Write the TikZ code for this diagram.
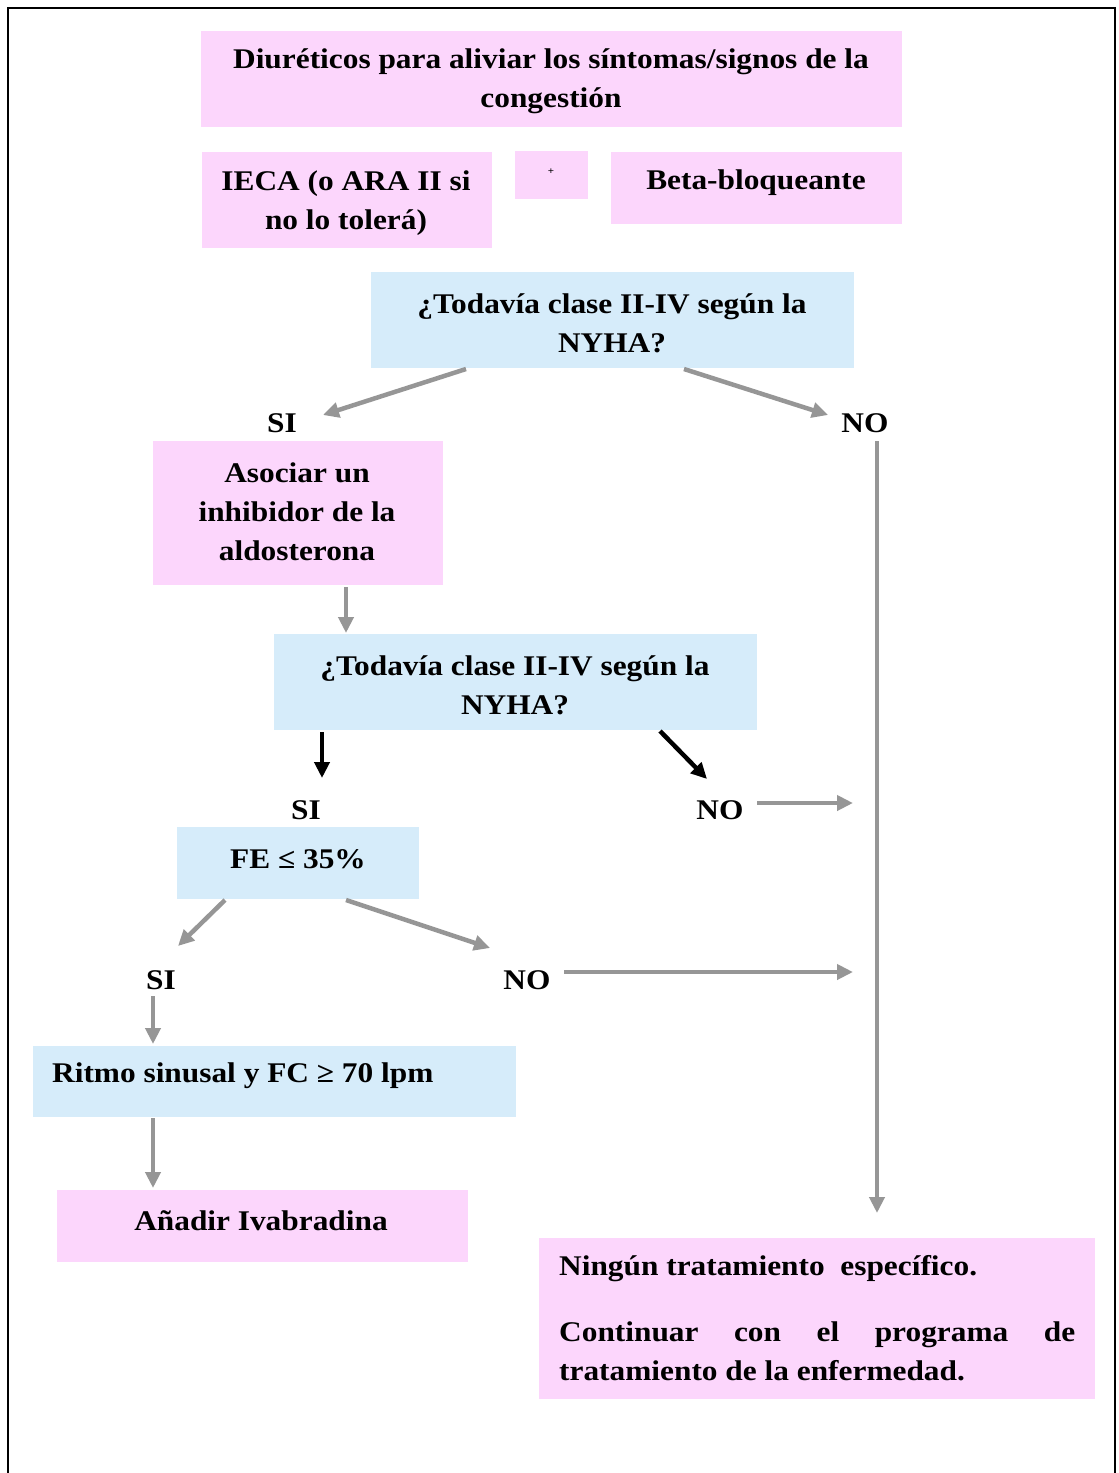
\documentclass[tikz,border=0pt]{standalone}
\usepackage{fontspec}
\setmainfont[FakeStretch=1.1]{Liberation Serif}
\usetikzlibrary{arrows.meta}
\definecolor{pinkf}{RGB}{252,214,252}
\definecolor{bluef}{RGB}{214,236,250}
\definecolor{arrgray}{RGB}{150,150,150}
\begin{document}
\begin{tikzpicture}[x=1pt,y=-1pt,
  pinkbox/.style={fill=pinkf,draw=none,anchor=north west,inner sep=0,outer sep=0},
  bluebox/.style={fill=bluef,draw=none,anchor=north west,inner sep=0,outer sep=0},
  txt/.style={font=\bfseries\fontsize{28.5}{39}\selectfont,align=center,inner sep=0},
  garrow/.style={draw=arrgray,line width=4.5pt,-{Triangle[length=16pt,width=15pt]}},
  karrow/.style={draw=black,line width=4.5pt,-{Triangle[length=16pt,width=15pt]}}]
\useasboundingbox (0,0) rectangle (1119,1473);
\begin{scope}
\clip (0,0) rectangle (1119,1473);
\draw[line width=2pt] (8,8) rectangle (1115,1490);
\end{scope}
% boxes
\node[pinkbox,minimum width=701pt,minimum height=96pt] (diur) at (201,31) {};
\node[pinkbox,minimum width=290pt,minimum height=96pt] (ieca) at (202,152) {};
\node[pinkbox,minimum width=73pt,minimum height=48pt] (plus) at (515,151) {};
\node[pinkbox,minimum width=291pt,minimum height=72pt] (beta) at (611,152) {};
\node[bluebox,minimum width=483pt,minimum height=96pt] (q1) at (371,272) {};
\node[pinkbox,minimum width=290pt,minimum height=144pt] (asoc) at (153,441) {};
\node[bluebox,minimum width=483pt,minimum height=96pt] (q2) at (274,634) {};
\node[bluebox,minimum width=242pt,minimum height=72pt] (fe) at (177,827) {};
\node[bluebox,minimum width=483pt,minimum height=71pt] (ritmo) at (33,1046) {};
\node[pinkbox,minimum width=411pt,minimum height=72pt] (anadir) at (57,1190) {};
\node[pinkbox,minimum width=556pt,minimum height=161pt] (ningun) at (539,1238) {};
% texts
\node[txt] (tdiur) at (551,81) {Diuréticos para aliviar los síntomas/signos de la\\congestión};
\node[txt] (tieca) at (346,203) {IECA (o ARA II si\\no lo tolerá)};
\node[txt,font=\bfseries\fontsize{10}{12}\selectfont] (tplus) at (551,172) {+};
\node[txt] (tbeta) at (756,183) {Beta-bloqueante};
\node[txt] (tq1) at (612,323) {¿Todavía clase II-IV según la\\NYHA?};
\node[txt] (si1) at (282,423) {SI};
\node[txt] (no1) at (865,423) {NO};
\node[txt] (tasoc) at (297,512) {Asociar un\\inhibidor de la\\aldosterona};
\node[txt] (tq2) at (515,685) {¿Todavía clase II-IV según la\\NYHA?};
\node[txt] (si2) at (306,810) {SI};
\node[txt] (no2) at (720,810) {NO};
\node[txt] (tfe) at (298,859) {FE ≤ 35\%};
\node[txt] (si3) at (161,980) {SI};
\node[txt] (no3) at (527,980) {NO};
\node[txt,anchor=west] (tritmo) at (52,1076) {Ritmo sinusal y FC ≥ 70 lpm};
\node[txt] (tanadir) at (261,1221) {Añadir Ivabradina};
\node[txt,anchor=west] (tn1) at (559,1269) {Ningún tratamiento\ \ específico.};
\node[txt,anchor=north west,align=left] (tn2) at (559,1322) {\makebox[516pt][s]{Continuar con el programa de}\\tratamiento de la enfermedad.};
% connector points
\coordinate (q1l) at (466,369); \coordinate (si1e) at (323,415);
\coordinate (q1r) at (684,369); \coordinate (no1e) at (828,415);
\coordinate (asocb) at (346,587); \coordinate (q2t) at (346,633);
\coordinate (q2l) at (322,732); \coordinate (si2e) at (322,778);
\coordinate (q2r) at (660,731); \coordinate (no2e) at (707,779);
\coordinate (no2s) at (757,803); \coordinate (no2t) at (853,803);
\coordinate (fel) at (225,900); \coordinate (si3e) at (178,946);
\coordinate (fer) at (346,900); \coordinate (no3e) at (490,948);
\coordinate (no3s) at (564,972); \coordinate (no3t) at (853,972);
\coordinate (si3s) at (153,996); \coordinate (ritmot) at (153,1044);
\coordinate (ritmob) at (153,1118); \coordinate (anadirt) at (153,1188);
\coordinate (vtop) at (877,441); \coordinate (vbot) at (877,1213);
% connectors
\draw[garrow] (q1l) -- (si1e);
\draw[garrow] (q1r) -- (no1e);
\draw[garrow] (asocb) -- (q2t);
\draw[karrow] (q2l) -- (si2e);
\draw[karrow] (q2r) -- (no2e);
\draw[garrow] (no2s) -- (no2t);
\draw[garrow] (fel) -- (si3e);
\draw[garrow] (fer) -- (no3e);
\draw[garrow] (no3s) -- (no3t);
\draw[garrow] (si3s) -- (ritmot);
\draw[garrow] (ritmob) -- (anadirt);
\draw[garrow] (vtop) -- (vbot);
\end{tikzpicture}
\end{document}
